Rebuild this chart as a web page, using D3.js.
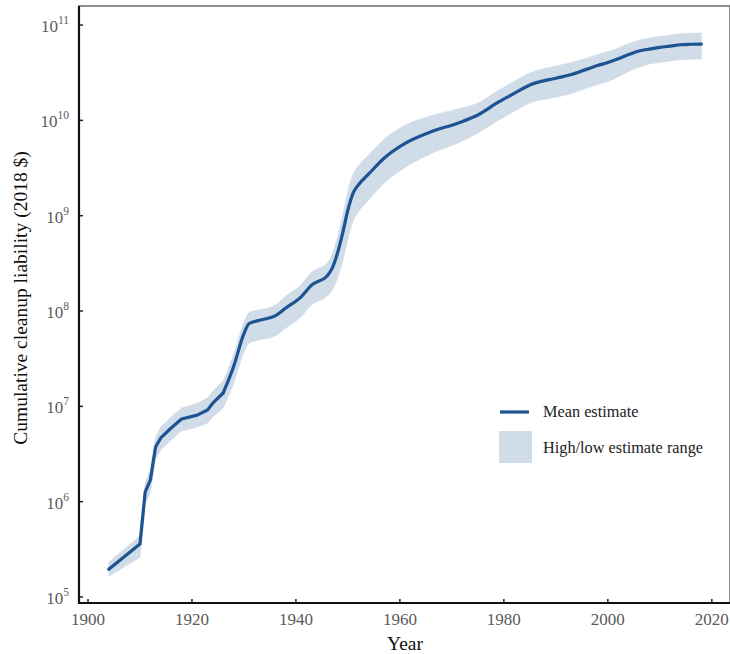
<!DOCTYPE html>
<html><head><meta charset="utf-8">
<script src="https://cdn.jsdelivr.net/npm/d3@7"></script>
<style>body{margin:0;background:#fff}svg{display:block}</style>
</head><body>
<svg id="c" width="730" height="654"></svg>
<script>
const years = [1904,1910,1911,1912,1913,1914,1916,1918,1921,1923,1924,1926,1928,1930,1931,1933,1936,1938,1941,1943,1946,1947,1948,1949,1950,1951,1952,1954,1957,1961,1966,1971,1975,1979,1982,1985,1990,1993,1996,1998,2000,2002,2004,2006,2008,2010,2012,2014,2016,2018];
const meanEstimate = [1.95e5,3.6e5,1.26e6,1.69e6,3.74e6,4.66e6,5.93e6,7.37e6,8.1e6,9.15e6,1.08e7,1.38e7,2.6e7,5.8e7,7.4e7,8.0e7,8.9e7,1.07e8,1.41e8,1.87e8,2.33e8,2.83e8,4.06e8,6.6e8,1.15e9,1.73e9,2.1e9,2.74e9,4.03e9,5.74e9,7.6e9,9.3e9,1.14e10,1.56e10,1.92e10,2.35e10,2.77e10,3.03e10,3.45e10,3.76e10,4.04e10,4.42e10,4.9e10,5.34e10,5.6e10,5.83e10,6.02e10,6.22e10,6.29e10,6.32e10];
const highEstimate = [2.31e5,4.4e5,1.57e6,2.15e6,4.76e6,6.07e6,7.73e6,9.6e6,1.08e7,1.22e7,1.45e7,1.85e7,3.48e7,7.6e7,9.7e7,1.03e8,1.15e8,1.43e8,1.89e8,2.56e8,3.18e8,3.96e8,5.97e8,1.02e9,1.81e9,2.74e9,3.32e9,4.33e9,6.37e9,8.87e9,1.12e10,1.31e10,1.52e10,2.08e10,2.57e10,3.14e10,3.71e10,4.05e10,4.5e10,4.9e10,5.27e10,5.75e10,6.4e10,6.95e10,7.3e10,7.6e10,7.85e10,8.09e10,8.2e10,8.24e10];
const lowEstimate = [1.65e5,2.6e5,9.4e5,1.26e6,2.8e6,3.48e6,4.44e6,5.5e6,6.07e6,6.68e6,7.73e6,9.6e6,1.73e7,3.69e7,4.58e7,4.97e7,5.46e7,6.58e7,8.7e7,1.16e8,1.44e8,1.66e8,2.22e8,3.34e8,5.69e8,8.79e8,1.09e9,1.46e9,2.2e9,3.21e9,4.47e9,5.74e9,7.36e9,1.007e10,1.245e10,1.52e10,1.75e10,1.91e10,2.18e10,2.38e10,2.56e10,2.86e10,3.26e10,3.62e10,3.9e10,4.06e10,4.2e10,4.33e10,4.39e10,4.41e10];
const xTicks = [1900,1920,1940,1960,1980,2000,2020];
const yTickExponents = [5,6,7,8,9,10,11];
const legendLabels = ["Mean estimate","High/low estimate range"];

const svg = d3.select("#c");
const L = 79, T = 6, R = 730, B = 603;
const x = d3.scaleLinear().domain([1898.27, 2023.5]).range([L, R]);
const y = d3.scaleLog().domain([Math.pow(10,4.937), Math.pow(10,11.2)]).range([B, T]);
const font = "'Liberation Serif','Times New Roman',serif";
const lineColor = "#1d5393", bandColor = "#d0dce8";

const data = years.map((yr,i)=>({yr, m: meanEstimate[i], h: highEstimate[i], l: lowEstimate[i]}));
const splitYear = 1926;
const early = data.filter(d=>d.yr<=splitYear), late = data.filter(d=>d.yr>=splitYear);

const bandGen = c => d3.area().curve(c).x(d=>x(d.yr)).y0(d=>y(d.l)).y1(d=>y(d.h));
const lineGen = c => d3.line().curve(c).x(d=>x(d.yr)).y(d=>y(d.m));

[[early,d3.curveLinear],[late,d3.curveMonotoneX]].forEach(([seg,c])=>{
  svg.append("path").datum(seg).attr("fill", bandColor).attr("stroke",bandColor).attr("stroke-width",0.6).attr("d", bandGen(c));
});
[[early,d3.curveLinear],[late,d3.curveMonotoneX]].forEach(([seg,c])=>{
  svg.append("path").datum(seg)
    .attr("fill","none").attr("stroke",lineColor).attr("stroke-width",3.2)
    .attr("stroke-linejoin","round").attr("stroke-linecap","round")
    .attr("d", lineGen(c));
});

// frame
svg.append("rect").attr("x",L).attr("y",T).attr("width",R-L).attr("height",B-T)
  .attr("fill","none").attr("stroke","#444").attr("stroke-width",1.2);
svg.append("line").attr("x1",L).attr("x2",L).attr("y1",T).attr("y2",B+1).attr("stroke","#111").attr("stroke-width",2.2);
svg.append("line").attr("x1",L-1).attr("x2",R).attr("y1",B).attr("y2",B).attr("stroke","#111").attr("stroke-width",2.2);

// x ticks
const gx = svg.append("g");
xTicks.forEach(t=>{
  gx.append("line").attr("x1",x(t)).attr("x2",x(t)).attr("y1",B).attr("y2",B-4).attr("stroke","#222").attr("stroke-width",1.5);
  gx.append("text").attr("x",x(t)).attr("y",B+22).attr("text-anchor","middle")
    .attr("font-family",font).attr("font-size",17).attr("fill","#5a5a5a").text(t);
});
// y ticks
const gy = svg.append("g");
yTickExponents.forEach(e=>{
  const v = Math.pow(10,e), yy = y(v);
  gy.append("line").attr("x1",L).attr("x2",L+4).attr("y1",yy).attr("y2",yy).attr("stroke","#222").attr("stroke-width",1.5);
  const t = gy.append("text").attr("x",69).attr("y",yy+7).attr("text-anchor","end")
    .attr("font-family",font).attr("font-size",17).attr("fill","#5a5a5a");
  t.append("tspan").text("10");
  t.append("tspan").attr("dy",-8).attr("font-size",11.5).text(e);
});

// axis titles
svg.append("text").attr("x",405).attr("y",650).attr("text-anchor","middle")
  .attr("font-family",font).attr("font-size",19.5).attr("fill","#111").text("Year");
svg.append("text").attr("transform","translate(27,298) rotate(-90)").attr("text-anchor","middle")
  .attr("font-family",font).attr("font-size",19.5).attr("fill","#111").text("Cumulative cleanup liability (2018 $)");

// legend
svg.append("line").attr("x1",500).attr("x2",529).attr("y1",412).attr("y2",412).attr("stroke",lineColor).attr("stroke-width",3.2);
svg.append("text").attr("x",543).attr("y",417).attr("font-family",font).attr("font-size",16.3).attr("fill","#222").text(legendLabels[0]);
svg.append("rect").attr("x",499).attr("y",431).attr("width",33).attr("height",32).attr("fill",bandColor);
svg.append("text").attr("x",543).attr("y",453).attr("font-family",font).attr("font-size",16.3).attr("fill","#222").text(legendLabels[1]);
</script>
</body></html>
